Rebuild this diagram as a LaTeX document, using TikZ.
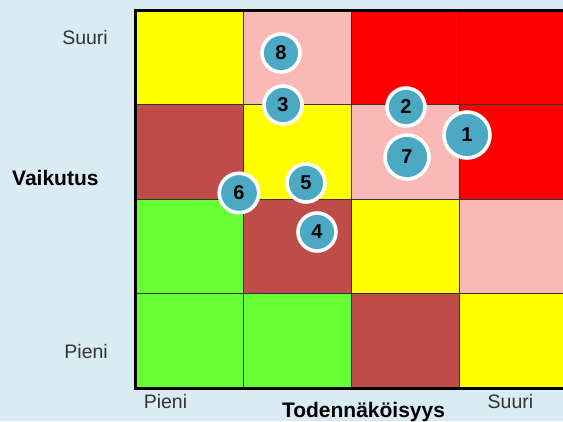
\documentclass[tikz,border=0pt]{standalone}
\usepackage{fontspec}
\setmainfont{Liberation Sans}
\usepackage{tikz}
\usetikzlibrary{shadows}
\definecolor{bgblue}{HTML}{D9EBF3}
\definecolor{riskgreen}{HTML}{66FF33}
\definecolor{riskbrown}{HTML}{BE4D49}
\definecolor{riskpink}{HTML}{F9B9B6}
\definecolor{riskred}{HTML}{FF0000}
\definecolor{riskyellow}{HTML}{FFFF00}
\definecolor{blobfill}{HTML}{4BA9C4}
\definecolor{labelgray}{HTML}{333333}
\tikzset{
  riskdot/.style={circle, fill=blobfill, draw=white, line width=3.6pt, inner sep=0pt,
    minimum size=38pt, font=\fontsize{20}{20}\selectfont\bfseries,
    drop shadow={opacity=0.35, shadow xshift=1pt, shadow yshift=-1.2pt}},
  bigdot/.style={riskdot, minimum size=46pt},
  scalelabel/.style={font=\fontsize{19.5}{20}\selectfont, text=labelgray, inner sep=0pt},
  axislabel/.style={font=\fontsize{21}{22}\selectfont\bfseries, inner sep=0pt}
}
\begin{document}
\begin{tikzpicture}[x=1pt,y=-1pt]
        \useasboundingbox[fill=bgblue] (0,0) rectangle (563,421);
        \begin{scope}
        \clip (0,0) rectangle (563,421);
        \foreach \colr [count=\i from 0] in {riskyellow,riskpink,riskred,riskred,
                riskbrown,riskyellow,riskpink,riskred,
                riskgreen,riskbrown,riskyellow,riskpink,
                riskgreen,riskgreen,riskbrown,riskyellow}
        {
            \pgfmathtruncatemacro{\col}{mod(\i,4)}
            \pgfmathtruncatemacro{\row}{div(\i,4)}
            \fill[\colr] (135+108*\col,10+94.5*\row) rectangle ++(108,94.5);
        }
        \foreach \k in {1,2,3} {
            \draw[line width=1pt, black!80] (135+108*\k,10) -- (135+108*\k,388);
            \draw[line width=1pt, black!80] (135,10+94.5*\k) -- (563,10+94.5*\k);
        }
        \draw[line width=3pt] (563,10) -- (135,10) -- (135,388) -- (563,388);
        \end{scope}
        \node[riskdot] (d8) at (281,53) {8};
        \node[riskdot] (d3) at (283,105) {3};
        \node[riskdot] (d2) at (406,107) {2};
        \node[bigdot] (d1) at (467,135) {1};
        \node[riskdot, minimum size=44pt] (d7) at (407,157) {7};
        \node[riskdot] (d5) at (306,183) {5};
        \node[riskdot, minimum size=39.5pt] (d6) at (239,193) {6};
        \node[riskdot] (d4) at (317,232) {4};
        \node[scalelabel, anchor=base east] (impacthigh) at (108,44) {Suuri};
        \node[scalelabel, anchor=base east] (impactlow) at (108,358) {Pieni};
        \node[axislabel, anchor=base west] (impact) at (12,185) {Vaikutus};
        \node[scalelabel, anchor=base] (probhigh) at (165.5,408) {Pieni};
        \node[scalelabel, anchor=base] (problow) at (510.5,408) {Suuri};
        \node[axislabel, anchor=base] (prob) at (363.5,417) {Todennäköisyys};
    \end{tikzpicture}
\end{document}
